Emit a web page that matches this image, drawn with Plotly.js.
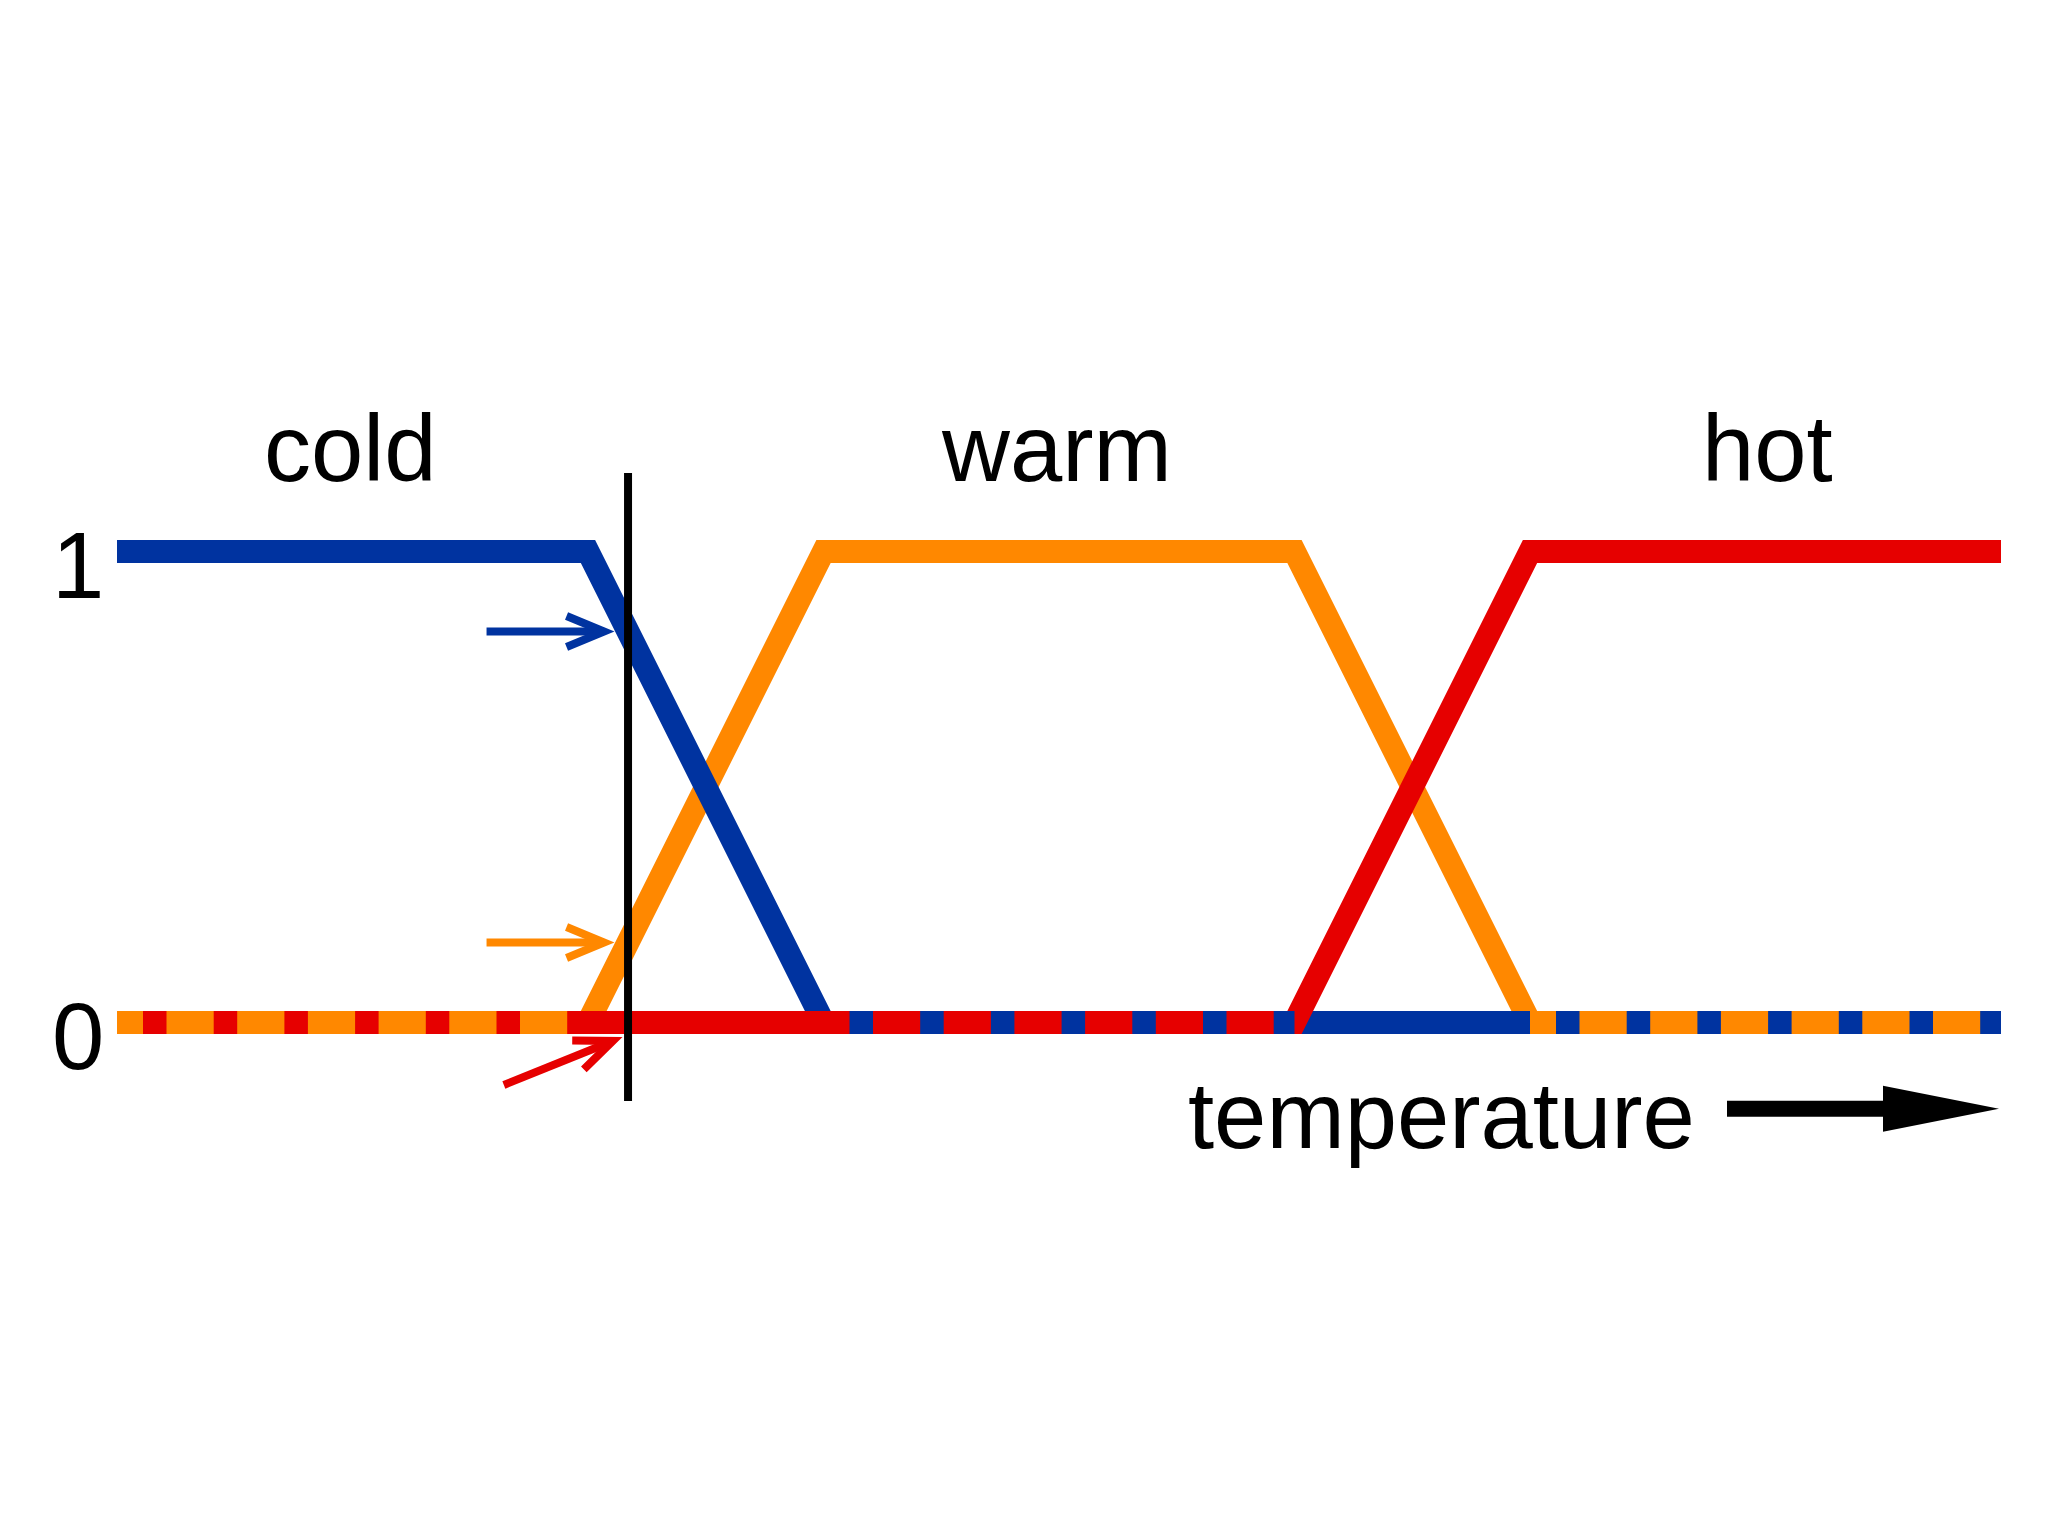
<!DOCTYPE html>
<html>
<head>
<meta charset="utf-8">
<script src="https://cdn.plot.ly/plotly-3.0.1.min.js"></script>
<style>html,body{margin:0;padding:0;background:#ffffff;}</style>
</head>
<body>
<div id="chart" style="width:2048px;height:1536px;"></div>
<script>
// ---- data: fuzzy membership functions of temperature ----
const coldX = [0, 2, 3, 8];
const coldY = [1, 1, 0, 0];
const warmX = [0, 2, 3, 5, 6, 8];
const warmY = [0, 0, 1, 1, 0, 0];
const hotX  = [0, 5, 6, 8];
const hotY  = [0, 0, 1, 1];
const setNames = ['cold', 'warm', 'hot'];
const yTickVals = [0, 1];
const yTickText = ['0', '1'];
const axisLabel = 'temperature';
const inputTemp = 2.17;   // crisp temperature reading (vertical line)

// ---- styling ----
const COLORS = {cold: '#0033a0', warm: '#ff8800', hot: '#e60000'};
const LW = 23;
const DASH = '0px,26px,23.5px,21.2px';
const FONT = {family: 'Liberation Sans, Arial, Helvetica, sans-serif', size: 94, color: '#000000'};
const LABEL_XSHIFT = {cold: -3, warm: -3, hot: 2};

// ---- pixel <-> data mapping (plot area covers the whole page) ----
const W = 2048, H = 1536;
const PX0 = 117, PXU = 235.5, PY0 = 1022.5, PYU = 471;
const X = p => (p - PX0) / PXU;
const Y = p => (PY0 - p) / PYU;
const toPx = x => PX0 + x * PXU;
const toPy = y => PY0 - y * PYU;

const series = {
  cold: {x: coldX, y: coldY},
  warm: {x: warmX, y: warmY},
  hot:  {x: hotX,  y: hotY}
};

function valueAt(s, x) {
  for (let i = 0; i < s.x.length - 1; i++) {
    if (x >= s.x[i] && x <= s.x[i + 1]) {
      const t = (x - s.x[i]) / (s.x[i + 1] - s.x[i]);
      return s.y[i] + t * (s.y[i + 1] - s.y[i]);
    }
  }
  return 0;
}
function zeroRuns(s) {
  const runs = [];
  for (let i = 0; i < s.x.length - 1; i++) {
    if (s.y[i] === 0 && s.y[i + 1] === 0) {
      const last = runs[runs.length - 1];
      if (last && last[1] === s.x[i]) last[1] = s.x[i + 1];
      else runs.push([s.x[i], s.x[i + 1]]);
    }
  }
  return runs;
}
function overlaps(a, b) {
  const out = [];
  zeroRuns(series[a]).forEach(r1 => zeroRuns(series[b]).forEach(r2 => {
    const lo = Math.max(r1[0], r2[0]), hi = Math.min(r1[1], r2[1]);
    if (hi > lo) out.push([lo, hi]);
  }));
  return out;
}
function plateauMid(s) {
  for (let i = 0; i < s.x.length - 1; i++) {
    if (s.y[i] === 1 && s.y[i + 1] === 1) return (s.x[i] + s.x[i + 1]) / 2;
  }
  return 0;
}

const traces = [];
// full membership lines (drawing order gives the crossings)
['warm', 'cold', 'hot'].forEach(n => {
  traces.push({x: series[n].x, y: series[n].y, type: 'scatter', mode: 'lines',
    line: {color: COLORS[n], width: LW}, hoverinfo: 'skip'});
});
// shared zero stretches: base colour + dashes of the other set
[['warm', 'hot'], ['hot', 'cold'], ['warm', 'cold']].forEach(([base, dash]) => {
  overlaps(base, dash).forEach(([lo, hi]) => {
    traces.push({x: [lo, hi], y: [0, 0], type: 'scatter', mode: 'lines',
      line: {color: COLORS[base], width: LW}, hoverinfo: 'skip'});
    traces.push({x: [lo, hi], y: [0, 0], type: 'scatter', mode: 'lines',
      line: {color: COLORS[dash], width: LW, dash: DASH}, hoverinfo: 'skip'});
  });
});

// ---- shapes ----
const shapes = [];
const P = pts => pts.map((p, i) => (i ? 'L' : 'M') + X(p[0]) + ',' + Y(p[1])).join(' ');
// vertical reading line
shapes.push({type: 'line', xref: 'x', yref: 'y', x0: inputTemp, x1: inputTemp,
  y0: -1 / 6, y1: 7 / 6, line: {color: '#000000', width: 8}});

function arrow(tip, angDeg, color) {
  const a = angDeg * Math.PI / 180;
  const d = [Math.cos(a), -Math.sin(a)];
  const n = [-d[1], d[0]];
  const pt = (back, side) => [tip[0] - back * d[0] + side * n[0], tip[1] - back * d[1] + side * n[1]];
  shapes.push({type: 'path', xref: 'x', yref: 'y', path: P([pt(128, 0), pt(10.5, 0)]),
    line: {color: color, width: 8}});
  shapes.push({type: 'path', xref: 'x', yref: 'y', path: P([pt(48, 15.5), pt(10.5, 0), pt(48, -15.5)]),
    line: {color: color, width: 8}});
}
const cx = toPx(inputTemp);
arrow([cx - 13.5, toPy(valueAt(series.cold, inputTemp))], 0, COLORS.cold);
arrow([cx - 13.5, toPy(valueAt(series.warm, inputTemp))], 0, COLORS.warm);
arrow([cx - 5.5, toPy(valueAt(series.hot, inputTemp)) + 14.5], 22, COLORS.hot);

// temperature axis arrow
shapes.push({type: 'path', xref: 'x', yref: 'y', path: P([[1727, 1108.7], [1885, 1108.7]]),
  line: {color: '#000000', width: 16}});
shapes.push({type: 'path', xref: 'x', yref: 'y',
  path: P([[1883, 1085.7], [1999, 1108.7], [1883, 1131.7]]) + ' Z',
  fillcolor: '#000000', line: {color: '#000000', width: 0}});

// ---- annotations ----
const annotations = [];
const BASE = 0.3465 * FONT.size; // baseline offset below text-box centre
setNames.forEach(n => {
  annotations.push({x: plateauMid(series[n]), y: Y(481 - BASE), xref: 'x', yref: 'y',
    xshift: LABEL_XSHIFT[n],
    text: n, showarrow: false, xanchor: 'center', yanchor: 'middle', font: FONT});
});
yTickVals.forEach((v, i) => {
  annotations.push({x: X(78), y: Y(toPy(v) + 47 - BASE), xref: 'x', yref: 'y',
    text: yTickText[i], showarrow: false, xanchor: 'center', yanchor: 'middle', font: FONT});
});
annotations.push({x: X(1441), y: Y(1148 - BASE), xref: 'x', yref: 'y',
  text: axisLabel, showarrow: false, xanchor: 'center', yanchor: 'middle', font: FONT});

const layout = {
  width: W, height: H,
  margin: {l: 0, r: 0, t: 0, b: 0, pad: 0},
  paper_bgcolor: '#ffffff', plot_bgcolor: '#ffffff',
  showlegend: false,
  xaxis: {range: [X(0), X(W)], visible: false, fixedrange: true},
  yaxis: {range: [Y(H), Y(0)], visible: false, fixedrange: true},
  shapes: shapes,
  annotations: annotations,
  hovermode: false
};
Plotly.newPlot('chart', traces, layout, {staticPlot: true, displayModeBar: false});
</script>
</body>
</html>
